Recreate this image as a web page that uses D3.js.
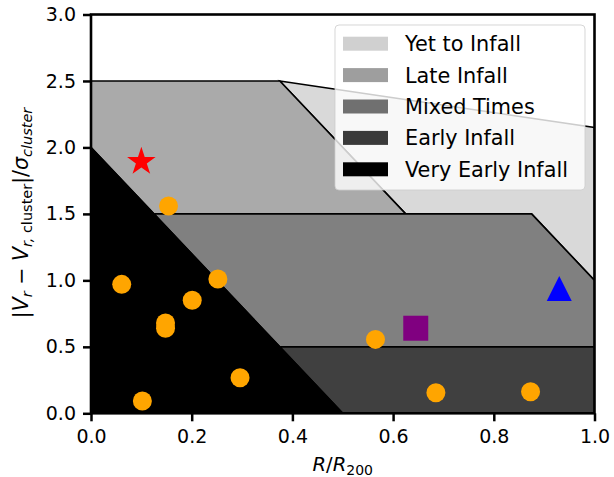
<!DOCTYPE html>
<html>
<head>
<meta charset="utf-8">
<script src="https://cdn.jsdelivr.net/npm/d3@7"></script>
<style>
  body { margin: 0; background: #fff; }
  svg { display: block; font-family: "DejaVu Sans", sans-serif; }
</style>
</head>
<body>
<svg id="chart" width="614" height="477"></svg>
<script>
// ---- data ----
const regionNames = ["Yet to Infall", "Late Infall", "Mixed Times", "Early Infall", "Very Early Infall"];
const regionColors = ["#d9d9d9", "#aaaaaa", "#808080", "#404040", "#000000"];
const legendColors = ["#d0d0d0", "#9e9e9e", "#707070", "#3a3a3a", "#000000"];
const yetToInfall = [[0.375, 2.5], [1.0, 2.15], [1.0, 1.0], [0.875, 1.5], [0.625, 1.5]];
const lateInfall = [[0.0, 2.5], [0.375, 2.5], [0.625, 1.5], [0.125, 1.5], [0.0, 2.0]];
const mixedTimes = [[0.125, 1.5], [0.875, 1.5], [1.0, 1.0], [1.0, 0.5], [0.375, 0.5]];
const earlyInfall = [[0.375, 0.5], [1.0, 0.5], [1.0, 0.0], [0.5, 0.0]];
const veryEarlyInfall = [[0.0, 0.0], [0.0, 2.0], [0.5, 0.0]];
const regions = [yetToInfall, lateInfall, mixedTimes, earlyInfall, veryEarlyInfall];

const galaxyR = [0.061, 0.201, 0.148, 0.148, 0.102, 0.296, 0.565, 0.685, 0.873, 0.154, 0.252];
const galaxyV = [0.97, 0.85, 0.68, 0.64, 0.092, 0.268, 0.556, 0.155, 0.162, 1.56, 1.01];
const starPoint = [0.10, 1.90];
const squarePoint = [0.645, 0.64];
const trianglePoint = [0.930, 0.938];

const xTicks = [0.0, 0.2, 0.4, 0.6, 0.8, 1.0];
const yTicks = [0.0, 0.5, 1.0, 1.5, 2.0, 2.5, 3.0];

// ---- layout ----
const L = 91, R = 594.5, T = 14.5, B = 413.3;
const x = d3.scaleLinear().domain([0, 1]).range([L, R]);
const y = d3.scaleLinear().domain([0, 3]).range([B, T]);

const svg = d3.select("#chart");
svg.append("defs").append("clipPath").attr("id", "plotclip")
  .append("rect").attr("x", L).attr("y", T).attr("width", R - L).attr("height", B - T);

const plot = svg.append("g").attr("clip-path", "url(#plotclip)");
const line = d3.line().x(d => x(d[0])).y(d => y(d[1]));

regions.forEach((poly, i) => {
  plot.append("path")
    .attr("d", line(poly) + "Z")
    .attr("fill", regionColors[i])
    .attr("stroke", "#000")
    .attr("stroke-width", 1.6)
    .attr("stroke-linejoin", "miter");
});

// galaxies
plot.selectAll("circle.gal").data(galaxyR.map((r, i) => [r, galaxyV[i]]))
  .enter().append("circle")
  .attr("cx", d => x(d[0])).attr("cy", d => y(d[1]))
  .attr("r", 9.5).attr("fill", "#ffa500");

// star
function starPath(cx, cy, Ro, Ri) {
  const pts = [];
  for (let k = 0; k < 10; k++) {
    const a = -Math.PI / 2 + k * Math.PI / 5;
    const rr = k % 2 === 0 ? Ro : Ri;
    pts.push([cx + rr * Math.cos(a), cy + rr * Math.sin(a)]);
  }
  return "M" + pts.map(p => p.join(",")).join("L") + "Z";
}
plot.append("path").attr("d", starPath(x(starPoint[0]), y(starPoint[1]) + 1, 15, 15 * 0.381966))
  .attr("fill", "#ff0000");

// square
const sq = 25;
plot.append("rect")
  .attr("x", x(squarePoint[0]) - sq / 2).attr("y", y(squarePoint[1]) - sq / 2)
  .attr("width", sq).attr("height", sq).attr("fill", "#800080");

// triangle
const tx = x(trianglePoint[0]), ty = y(trianglePoint[1]), th = 12.5;
plot.append("path")
  .attr("d", `M${tx},${ty - th}L${tx - th},${ty + th}L${tx + th},${ty + th}Z`)
  .attr("fill", "#0000ff");

// axes
const fmt = d3.format(".1f");
const xAxis = svg.append("g").attr("transform", `translate(0,${B})`)
  .call(d3.axisBottom(x).tickValues(xTicks).tickFormat(fmt).tickSize(8).tickSizeOuter(0).tickPadding(8));
const yAxis = svg.append("g").attr("transform", `translate(${L},0)`)
  .call(d3.axisLeft(y).tickValues(yTicks).tickFormat(fmt).tickSize(8).tickSizeOuter(0).tickPadding(7));
[xAxis, yAxis].forEach(g => {
  g.select(".domain").remove();
  g.selectAll(".tick line").attr("stroke", "#000").attr("stroke-width", 2.5);
  g.selectAll(".tick text").attr("fill", "#000").style("font-size", "19px").style("font-family", "DejaVu Sans");
});

// frame
svg.append("rect").attr("x", L).attr("y", T).attr("width", R - L).attr("height", B - T)
  .attr("fill", "none").attr("stroke", "#000").attr("stroke-width", 2.6);

// x label
const xl = svg.append("text").attr("x", (L + R) / 2).attr("y", 471)
  .attr("text-anchor", "middle").style("font-size", "19.5px");
xl.append("tspan").attr("font-style", "italic").text("R");
xl.append("tspan").text("/");
xl.append("tspan").attr("font-style", "italic").text("R");
xl.append("tspan").attr("dy", 4).style("font-size", "14px").text("200");

// y label
const yl = svg.append("text")
  .attr("transform", `translate(28,${(T + B) / 2 - 1}) rotate(-90)`)
  .attr("text-anchor", "middle").style("font-size", "20.5px");
yl.append("tspan").text("|");
yl.append("tspan").attr("font-style", "italic").text("V");
yl.append("tspan").attr("dy", 4).attr("font-style", "italic").style("font-size", "14.5px").text("r");
yl.append("tspan").attr("dy", -4).text(" \u2212 ");
yl.append("tspan").attr("font-style", "italic").text("V");
yl.append("tspan").attr("dy", 4).attr("font-style", "italic").style("font-size", "14.5px").text("r,");
yl.append("tspan").style("font-size", "14.5px").text(" cluster");
yl.append("tspan").attr("dy", -4).text("|/");
yl.append("tspan").attr("font-style", "italic").text("\u03c3");
yl.append("tspan").attr("dy", 4).attr("font-style", "italic").style("font-size", "14.5px").text("cluster");

// legend
const lg = svg.append("g");
lg.append("rect").attr("x", 335).attr("y", 25).attr("width", 250).attr("height", 165)
  .attr("rx", 4).attr("fill", "#fff").attr("fill-opacity", 0.8)
  .attr("stroke", "#cccccc").attr("stroke-opacity", 0.8).attr("stroke-width", 1);
regionNames.forEach((name, i) => {
  const cy = 43.7 + i * 31.4;
  lg.append("rect").attr("x", 343).attr("y", cy - 7).attr("width", 45).attr("height", 14)
    .attr("fill", legendColors[i]);
  lg.append("text").attr("x", 405).attr("y", cy + 7.5)
    .style("font-size", "20.8px").attr("fill", "#000").text(name);
});
</script>
</body>
</html>
